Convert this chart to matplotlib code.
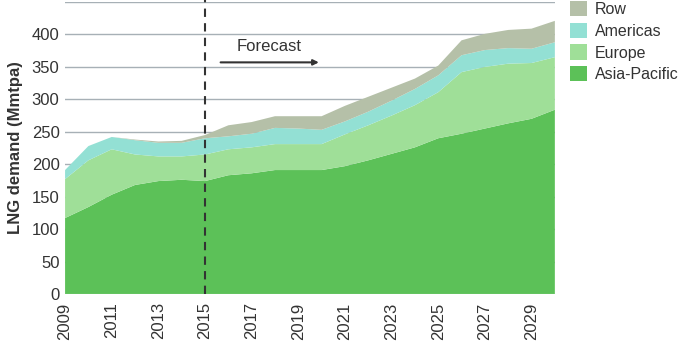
import matplotlib.pyplot as plt

plt.rcParams['font.family'] = ['Liberation Sans', 'DejaVu Sans']

# LNG demand by region, Mmtpa (stacked)
years = list(range(2009, 2031))
asia_pacific = [117, 134, 153, 168, 174, 176, 174, 183, 186, 191, 191, 191, 197,
                206, 216, 226, 240, 247, 255, 263, 270, 284]
europe = [60, 72, 70, 47, 38, 36, 41, 40, 40, 40, 40, 40, 49,
          54, 59, 65, 71, 95, 95, 92, 86, 81]
americas = [14, 22, 19, 22, 21, 21, 25, 20, 21, 25, 24, 22, 20,
            21, 23, 25, 26, 26, 26, 24, 22, 23]
row = [0, 0, 0, 1, 2, 3, 5, 17, 18, 18, 19, 21, 24,
       23, 20, 16, 15, 23, 25, 28, 31, 33]

colors = ['#5cc158', '#9fdf98', '#93e0d4', '#b5c0a8']
labels = ['Asia-Pacific', 'Europe', 'Americas', 'Row']

fig = plt.figure(figsize=(6.85, 3.41), dpi=100)
ax = fig.add_axes([0.095, 0.138, 0.715, 0.856])

ax.stackplot(years, asia_pacific, europe, americas, row,
             colors=colors, labels=labels, zorder=2)

ax.set_xlim(2009, 2030)
ax.set_ylim(0, 450)
ax.set_yticks(range(0, 451, 50))
ax.set_yticklabels([str(v) for v in range(0, 401, 50)] + [''])
ax.set_xticks(range(2009, 2030, 2))
ax.tick_params(axis='x', rotation=90, pad=6)
ax.tick_params(axis='y', pad=4)
ax.tick_params(length=0, labelsize=12, colors='#333333')
ax.grid(axis='y', color='#a7b0b6', linewidth=1, zorder=0)
ax.set_axisbelow(True)
for s in ax.spines.values():
    s.set_visible(False)

ax.set_ylabel('LNG demand (Mmtpa)', fontsize=12, fontweight='bold', color='#333333', labelpad=6)

# forecast marker
ax.axvline(2015, color='#333333', linestyle=(0, (4, 3)), linewidth=1.5, zorder=3, clip_on=False, ymax=1.01)
ax.annotate('', xy=(2020.0, 357), xytext=(2015.55, 357),
            arrowprops=dict(arrowstyle='-|>', color='#333333', lw=1.5, mutation_scale=8))
ax.text(2017.75, 381, 'Forecast', ha='center', va='center', fontsize=12, color='#333333')

handles, lbls = ax.get_legend_handles_labels()
fig.legend(handles[::-1], lbls[::-1], loc='upper left', bbox_to_anchor=(0.818, 1.025),
           frameon=False, fontsize=11.5, handlelength=1.1, handleheight=1.1,
           handletextpad=0.45, labelspacing=0.35, labelcolor='#333333', borderaxespad=0.2)

fig.savefig('out.png', dpi=100)
